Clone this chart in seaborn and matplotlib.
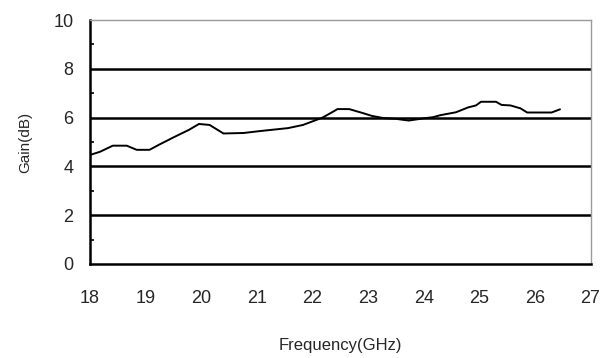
import numpy as np
import pandas as pd
import seaborn as sns
import matplotlib.pyplot as plt
from matplotlib.ticker import MultipleLocator

# gain curve
freq = [18.0, 18.18, 18.41, 18.66, 18.84, 19.07, 19.25, 19.51, 19.78, 19.96,
        20.15, 20.4, 20.76, 21.06, 21.56, 21.83, 21.97, 22.18, 22.36, 22.45,
        22.66, 22.9, 23.07, 23.28, 23.5, 23.73, 24.0, 24.17, 24.3, 24.58,
        24.8, 24.94, 25.03, 25.3, 25.4, 25.56, 25.74, 25.86, 26.3, 26.45]
gain = [4.47, 4.6, 4.85, 4.85, 4.68, 4.68, 4.9, 5.2, 5.5, 5.74,
        5.7, 5.35, 5.37, 5.45, 5.57, 5.7, 5.82, 6.0, 6.23, 6.35,
        6.35, 6.19, 6.07, 5.98, 5.95, 5.88, 5.97, 6.02, 6.1, 6.22,
        6.42, 6.5, 6.65, 6.65, 6.52, 6.5, 6.38, 6.21, 6.21, 6.34]
xticks = [18, 19, 20, 21, 22, 23, 24, 25, 26, 27]
yticks = [0, 2, 4, 6, 8, 10]

df = pd.DataFrame({"Frequency(GHz)": freq, "Gain(dB)": gain})

sns.set_theme(style="white")
plt.rcParams['font.family'] = ['Liberation Sans', 'DejaVu Sans']

fig = plt.figure(figsize=(6.02, 3.58), dpi=100)
ax = fig.add_axes([0.1495, 0.2626, 0.8315, 0.6814])

# grid lines
for y in yticks[1:-1]:
    ax.axhline(y, color="black", lw=1.8, zorder=1)

sns.lineplot(data=df, x="Frequency(GHz)", y="Gain(dB)", color="black",
             lw=1.4, ax=ax, zorder=3)

ax.set_xlim(18, 27)
ax.set_ylim(0, 10)
ax.set_xticks(xticks)
ax.set_yticks(yticks)
ax.yaxis.set_minor_locator(MultipleLocator(1))
ax.tick_params(axis="both", which="major", direction="in", length=4,
               width=1.2, color="black", labelsize=13, pad=19)
ax.tick_params(axis="y", which="major", length=0, pad=12)
ax.tick_params(axis="y", which="minor", direction="in", length=3,
               width=1.2, color="black", left=True)

for side in ["left", "bottom"]:
    ax.spines[side].set_color("black")
    ax.spines[side].set_linewidth(1.8)
for side in ["top", "right"]:
    ax.spines[side].set_color("#9a9a9a")
    ax.spines[side].set_linewidth(1.0)

ax.set_xlabel("Frequency(GHz)", fontsize=12, labelpad=22)
ax.set_ylabel("Gain(dB)", fontsize=11, labelpad=15)

fig.savefig("out.png", dpi=100)
